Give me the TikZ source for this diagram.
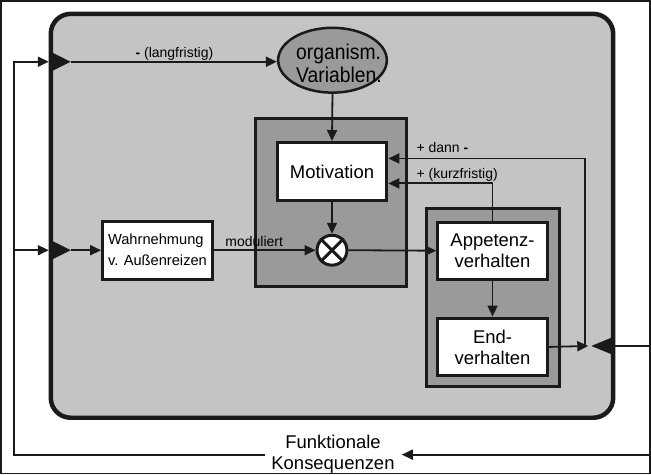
\documentclass[tikz,border=0pt]{standalone}
\usepackage{fontspec}
\setmainfont{Liberation Sans}
\usetikzlibrary{arrows.meta,shapes.geometric}
\definecolor{lg}{HTML}{C4C4C4}
\definecolor{dg}{HTML}{9A9A9A}
\definecolor{ink}{HTML}{1A1A1A}
\begin{document}
\begin{tikzpicture}[x=1pt,y=-1pt,line width=1.8pt,
  every path/.style={draw=ink},
  arr/.style={-{Triangle[length=11pt,width=10pt]}},
  wbox/.style={draw=ink,line width=3pt,fill=white,inner sep=0pt,align=center},
  gbox/.style={draw=ink,line width=3pt,fill=dg,inner sep=0pt},
  big/.style={font=\fontsize{18.5}{21}\selectfont},
  small/.style={font=\fontsize{14}{16}\selectfont},
  tri/.style={fill=ink,draw=none}]
\useasboundingbox (0,0) rectangle (651,474);
% main container
\node[draw=ink,line width=4.5pt,fill=lg,rounded corners=20pt,minimum width=564pt,minimum height=405pt,inner sep=0pt] (main) at (332,215.5) {};
% organismic variables
\node[ellipse,draw=ink,fill=dg,line width=2.5pt,minimum width=109pt,minimum height=65pt,inner sep=0pt] (org) at (332.5,59.5) {};
\node[font=\fontsize{21.5}{23}\selectfont,align=left,inner sep=0pt] (orgtxt) at (339,63) {\scalebox{0.9}[1]{organism.}\\\scalebox{0.9}[1]{Variablen.}};
% motivation block
\node[gbox,minimum width=152pt,minimum height=168pt] (motout) at (331,202) {};
\node[wbox,big,minimum width=110pt,minimum height=58pt] (mot) at (332,171) {Motivation};
\node[circle,draw=ink,fill=white,line width=3pt,minimum size=30pt,inner sep=0pt] (mult) at (332,250) {};
\draw[line width=3pt] (mult.north west) -- (mult.south east);
\draw[line width=3pt] (mult.north east) -- (mult.south west);
% behaviour block
\node[gbox,minimum width=133pt,minimum height=179pt] (behout) at (493.5,297.5) {};
\node[wbox,big,minimum width=110pt,minimum height=57pt] (app) at (493,250.5) {Appetenz-\\verhalten};
\node[wbox,big,minimum width=110pt,minimum height=58pt] (endb) at (493,347) {End-\\verhalten};
% perception
\node[wbox,align=left,font=\fontsize{14.7}{21}\selectfont,minimum width=110pt,minimum height=58pt] (wahr) at (157,250) {Wahrnehmung\\v. Außenreizen};
% input triangles
\coordinate (t1) at (70,61);
\coordinate (t2) at (70,250);
\fill[tri] (52,52) -- (t1) -- (52,70) -- cycle;
\fill[tri] (52,241) -- (t2) -- (52,259) -- cycle;
\coordinate (t3) at (592,346);
\fill[tri] (614,337) -- (t3) -- (614,355) -- cycle;
% internal connectors
\draw[arr] (t1) -- (t1 -| org.west);
\node[small,anchor=base] (lang) at (174,57) {\textbf{-} (langfristig)};
\draw[arr] (org.south) -- (mot.north);
\draw[arr] (mot.south) -- (mult.north);
\draw[arr] (t2) -- (wahr.west);
\draw[arr] (wahr.east) -- (mult.west);
\node[small,anchor=base] (mod) at (254,246) {moduliert};
\draw[arr] (mult.east) -- (app.west);
\draw[arr] (app.south) -- (endb.north);
\coordinate (eo) at (589,346);
\coordinate (dn) at (586,346);
\draw[arr] (endb.east) -- (eo);
\draw[arr] (dn) |- ([yshift=13pt]mot.east);
\draw[arr] (app.north) |- ([yshift=-12pt]mot.east);
\node[small,anchor=base west,inner sep=0pt] (dann) at (416,152) {+ dann \textbf{-}};
\node[small,anchor=base west,inner sep=0pt] (kurz) at (416,178) {+ (kurzfristig)};
% external feedback
\coordinate (rA) at (651,346);
\draw (rA) -- (main.east |- rA);
\coordinate (rB) at (651,455);
\coordinate (fbR) at (402,455);
\coordinate (fbL) at (265,455);
\coordinate (corner) at (13,455);
\coordinate (inA) at (48,61);
\coordinate (inB) at (48,250);
\draw[arr] (rB) -- (fbR);
\node[align=center,font=\fontsize{18.5}{21}\selectfont,inner sep=0pt] (cons) at (333,455) {Funktionale\\Konsequenzen};
\draw[arr] (fbL) -- (corner) |- (inA);
\draw[arr] (corner |- inB) -- (inB);
\end{tikzpicture}
\end{document}
